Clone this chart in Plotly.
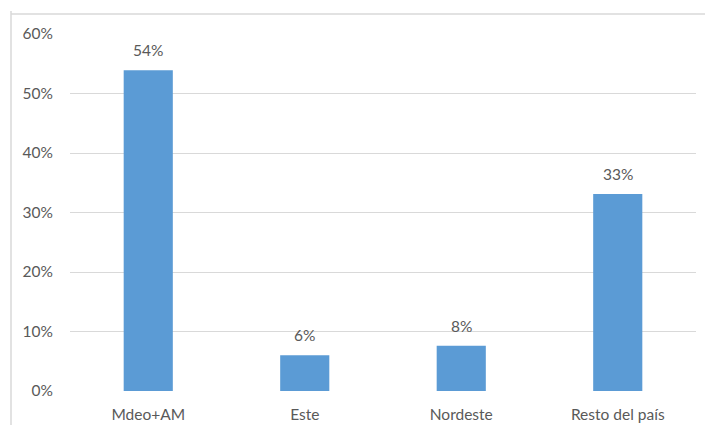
import plotly.graph_objects as go

regions = ["Mdeo+AM", "Este", "Nordeste", "Resto del país"]
shares = [0.539, 0.060, 0.076, 0.331]
y_ticks = [0, 0.1, 0.2, 0.3, 0.4, 0.5, 0.6]
y_tick_labels = ["0%", "10%", "20%", "30%", "40%", "50%", "60%"]

W, H = 705, 428
L, R, T, B = 70, 9, 34, 37
pw = W - L - R
ph = H - T - B
FONT = "Lato"
FS = 15.5
GREY = "#595959"

labels = [f"{round(v * 100)}%" for v in shares]

fig = go.Figure(
    go.Bar(
        x=regions,
        y=shares,
        marker=dict(color="#5B9BD5", line=dict(width=0)),
        width=0.314,
        hoverinfo="x+y",
    )
)

# value labels above each bar
for r, v, t in zip(regions, shares, labels):
    fig.add_annotation(
        x=r, y=v, text=t, showarrow=False,
        xanchor="center", yanchor="bottom", yshift=9,
        font=dict(family=FONT, size=FS, color=GREY),
    )

fig.update_layout(
    width=W,
    height=H,
    margin=dict(l=L, r=R, t=T, b=B),
    paper_bgcolor="white",
    plot_bgcolor="white",
    showlegend=False,
    font=dict(family=FONT, size=FS, color=GREY),
    xaxis=dict(
        showgrid=False,
        showline=False,
        zeroline=False,
        ticks="",
        tickfont=dict(size=FS, color=GREY),
        ticklabelstandoff=12,
        automargin=False,
    ),
    yaxis=dict(
        range=[0, 0.6],
        tickvals=y_ticks,
        ticktext=y_tick_labels,
        showgrid=True,
        gridcolor="#D9D9D9",
        gridwidth=1,
        zeroline=False,
        showline=False,
        ticks="",
        tickfont=dict(size=FS, color=GREY),
        ticklabelstandoff=16,
        automargin=False,
    ),
    shapes=[
        # chart-area frame: left and top edges
        dict(type="line", xref="paper", yref="paper",
             x0=(11 - L) / pw, x1=(11 - L) / pw,
             y0=(H - T - 428) / ph, y1=(H - T - 14) / ph,
             line=dict(color="#D9D9D9", width=1.5)),
        dict(type="line", xref="paper", yref="paper",
             x0=(11 - L) / pw, x1=(705 - L) / pw,
             y0=(H - B - 14) / ph, y1=(H - B - 14) / ph,
             line=dict(color="#D9D9D9", width=1.5)),
    ],
)

fig.write_html("out.html")
